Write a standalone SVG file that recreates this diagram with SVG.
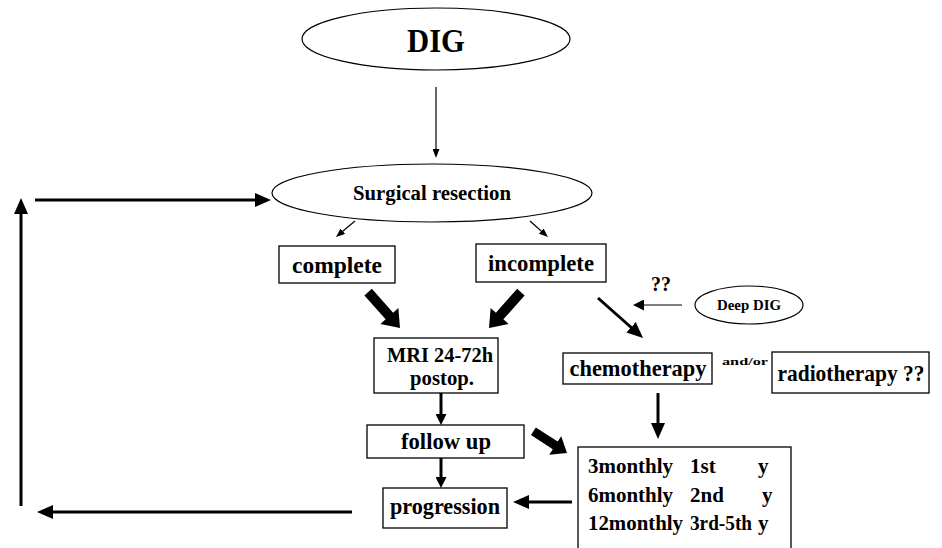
<svg xmlns="http://www.w3.org/2000/svg" width="942" height="548" viewBox="0 0 942 548">
<style>
text{font-family:"Liberation Serif","Times New Roman",serif;font-weight:bold;fill:#000}
.box{fill:#fff;stroke:#000;stroke-width:1.3}
.ell{fill:#fff;stroke:#000;stroke-width:1.2}
.thin{stroke:#000;stroke-width:1.2;fill:none}
.thick{stroke:#000;stroke-width:3;fill:none}
.lbl{font-size:23px;text-anchor:middle}
.sch{font-size:21px}
</style>
<defs>
<marker id="sm" markerUnits="userSpaceOnUse" markerWidth="9" markerHeight="7" refX="1" refY="3.5" orient="auto"><path d="M0,0 L9,3.5 L0,7 z" fill="#000"/></marker>
<marker id="md" markerUnits="userSpaceOnUse" markerWidth="11" markerHeight="11" refX="1" refY="5.5" orient="auto"><path d="M0,0 L11,5.5 L0,11 z" fill="#000"/></marker>
<marker id="lg" markerUnits="userSpaceOnUse" markerWidth="16" markerHeight="14" refX="1" refY="7" orient="auto"><path d="M0,0 L16,7 L0,14 z" fill="#000"/></marker>
<polygon id="block" points="-48,-5 -16,-5 -16,-12 0,0 -16,12 -16,5 -48,5" fill="#000"/>
<polygon id="block2" points="-40,-4.5 -14,-4.5 -14,-11 0,0 -14,11 -14,4.5 -40,4.5" fill="#000"/>
</defs>

<g id="connectors">
<line class="thin" x1="436" y1="87" x2="436" y2="150" marker-end="url(#sm)"/>
<line class="thin" x1="355" y1="221" x2="342.1" y2="231.8" marker-end="url(#sm)"/>
<line class="thin" x1="530" y1="221" x2="542" y2="231.7" marker-end="url(#sm)"/>
<line class="thin" x1="682" y1="305" x2="643" y2="305" marker-end="url(#md)"/>
<line class="thick" x1="598" y1="298" x2="631.8" y2="328" marker-end="url(#lg)"/>
<line class="thick" x1="658" y1="393" x2="658" y2="424" marker-end="url(#lg)"/>
<line class="thick" x1="572" y1="502" x2="528" y2="502" marker-end="url(#lg)"/>
<line class="thick" x1="441" y1="393" x2="441" y2="415" marker-end="url(#md)"/>
<line class="thick" x1="441" y1="458" x2="441" y2="478" marker-end="url(#md)"/>
<line class="thick" x1="352" y1="512" x2="52" y2="512" marker-end="url(#lg)"/>
<line class="thick" x1="21" y1="506" x2="21" y2="213" marker-end="url(#lg)"/>
<line class="thick" x1="35" y1="200" x2="256" y2="200" marker-end="url(#lg)"/>
<use href="#block" transform="translate(400,328) rotate(48.4)"/>
<use href="#block" transform="translate(489,328) rotate(131.6)"/>
<use href="#block2" transform="translate(567,453) rotate(32.9)"/>
</g>

<g id="dig">
<ellipse class="ell" cx="436" cy="39" rx="134" ry="31"/>
<text x="436" y="52" font-size="33" text-anchor="middle" textLength="58" lengthAdjust="spacingAndGlyphs">DIG</text>
</g>

<g id="surgical">
<ellipse class="ell" cx="432" cy="193" rx="160" ry="29"/>
<text x="432" y="200" font-size="20" text-anchor="middle" textLength="158" lengthAdjust="spacingAndGlyphs">Surgical resection</text>
</g>

<g id="complete">
<rect class="box" x="279" y="246" width="116" height="37"/>
<text class="lbl" x="337" y="273" textLength="90" lengthAdjust="spacingAndGlyphs">complete</text>
</g>

<g id="incomplete">
<rect class="box" x="476" y="244" width="130" height="38"/>
<text class="lbl" x="541" y="271" textLength="106" lengthAdjust="spacingAndGlyphs">incomplete</text>
</g>

<g id="mri">
<rect class="box" x="374" y="338" width="124" height="55"/>
<text x="440" y="362" font-size="20" text-anchor="middle" textLength="106" lengthAdjust="spacingAndGlyphs">MRI 24-72h</text>
<text x="442" y="385" font-size="20" text-anchor="middle" textLength="64" lengthAdjust="spacingAndGlyphs">postop.</text>
</g>

<g id="followup">
<rect class="box" x="367" y="425" width="157" height="33"/>
<text class="lbl" x="446" y="449" textLength="90" lengthAdjust="spacingAndGlyphs">follow up</text>
</g>

<g id="progression">
<rect class="box" x="383" y="488" width="124" height="40"/>
<text class="lbl" x="445" y="514" textLength="110" lengthAdjust="spacingAndGlyphs">progression</text>
</g>

<g id="deepdig">
<ellipse class="ell" cx="749" cy="305" rx="54" ry="19"/>
<text x="749" y="310" font-size="15" text-anchor="middle" textLength="64" lengthAdjust="spacingAndGlyphs">Deep DIG</text>
</g>

<text x="661" y="291" font-size="20" text-anchor="middle">??</text>

<g id="chemotherapy">
<rect class="box" x="563" y="353" width="149" height="31"/>
<text class="lbl" x="638" y="376" textLength="137" lengthAdjust="spacingAndGlyphs">chemotherapy</text>
</g>

<text x="722" y="365" font-size="11" textLength="46" lengthAdjust="spacingAndGlyphs">and/or</text>

<g id="radiotherapy">
<rect class="box" x="772" y="352" width="157" height="41"/>
<text class="lbl" x="851" y="381" textLength="147" lengthAdjust="spacingAndGlyphs">radiotherapy ??</text>
</g>

<g id="schedule">
<rect class="box" x="578" y="447" width="213" height="110"/>
<text class="sch" y="473"><tspan x="588" textLength="85" lengthAdjust="spacingAndGlyphs">3monthly</tspan><tspan x="690">1st</tspan><tspan x="758">y</tspan></text>
<text class="sch" y="502"><tspan x="588" textLength="85" lengthAdjust="spacingAndGlyphs">6monthly</tspan><tspan x="690">2nd</tspan><tspan x="762">y</tspan></text>
<text class="sch" y="530"><tspan x="588" textLength="95" lengthAdjust="spacingAndGlyphs">12monthly</tspan><tspan x="690" textLength="62" lengthAdjust="spacingAndGlyphs">3rd-5th</tspan><tspan x="758">y</tspan></text>
</g>
</svg>
